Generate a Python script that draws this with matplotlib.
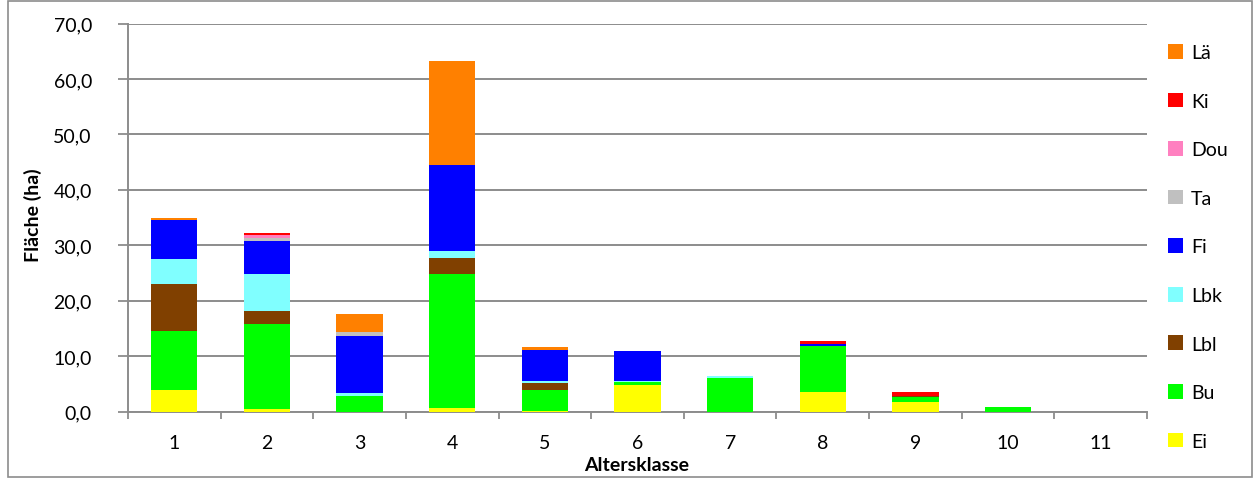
import matplotlib
matplotlib.use("Agg")
import matplotlib.pyplot as plt
import numpy as np
from matplotlib.patches import Patch, Rectangle

categories = ["1", "2", "3", "4", "5", "6", "7", "8", "9", "10", "11"]
species = ["Ei", "Bu", "Lbl", "Lbk", "Fi", "Ta", "Dou", "Ki", "Lä"]
colors = ["#FFFF00", "#00FF00", "#804000", "#80FFFF", "#0000FF",
          "#C0C0C0", "#FF80C0", "#FF0000", "#FF8000"]

Ei  = [4.0, 0.4, 0.0, 0.6, 0.1, 4.8, 0.0, 3.6, 1.8, 0.0, 0.0]
Bu  = [10.5, 15.5, 2.9, 24.3, 3.8, 0.5, 6.0, 8.2, 0.85, 0.8, 0.0]
Lbl = [8.5, 2.2, 0.0, 2.9, 1.3, 0.0, 0.0, 0.0, 0.25, 0.0, 0.0]
Lbk = [4.5, 6.7, 0.5, 1.2, 0.35, 0.2, 0.4, 0.0, 0.0, 0.0, 0.0]
Fi  = [7.0, 6.0, 10.2, 15.5, 5.6, 5.4, 0.0, 0.4, 0.0, 0.0, 0.0]
Ta  = [0.0, 0.5, 0.8, 0.0, 0.0, 0.0, 0.0, 0.0, 0.0, 0.0, 0.0]
Dou = [0.0, 0.6, 0.0, 0.0, 0.0, 0.0, 0.0, 0.0, 0.0, 0.0, 0.0]
Ki  = [0.0, 0.3, 0.0, 0.0, 0.0, 0.0, 0.0, 0.5, 0.6, 0.0, 0.0]
Lae = [0.4, 0.0, 3.3, 18.8, 0.5, 0.0, 0.0, 0.0, 0.0, 0.0, 0.0]

series = [Ei, Bu, Lbl, Lbk, Fi, Ta, Dou, Ki, Lae]
legend_labels = ["Ei", "Bu", "Lbl", "Lbk", "Fi", "Ta", "Dou", "Ki", "Lä"]

plt.rcParams['font.family'] = ['Lato', 'DejaVu Sans']
FS = 14

fig = plt.figure(figsize=(12.58, 4.81), dpi=100)
ax = fig.add_axes([128/1258, 68.3/481, (1147-128)/1258, (412.7-24.5)/481])

x = np.arange(len(categories))
bottom = np.zeros(len(categories))
for vals, col in zip(series, colors):
    v = np.array(vals)
    ax.bar(x, v, width=0.5, bottom=bottom, color=col, edgecolor='none', zorder=3)
    bottom += v

ax.set_xlim(-0.5, len(categories) - 0.5)
ax.set_ylim(0, 70)
ax.set_yticks(np.arange(0, 71, 10))
ax.set_yticklabels([f"{v:.1f}".replace('.', ',') for v in np.arange(0, 71, 10)], fontsize=FS)
ax.yaxis.grid(True, color='#8c8c8c', linewidth=1.4, zorder=0)
ax.set_axisbelow(True)

ax.set_xticks(x)
ax.set_xticklabels(categories, fontsize=FS)
ax.set_xticks(np.arange(-0.5, len(categories), 1), minor=True)
ax.tick_params(axis='x', which='major', length=0, pad=16)
ax.tick_params(axis='x', which='minor', length=5, width=1.3, color='#8c8c8c')
ax.tick_params(axis='y', length=7, width=1.3, color='#8c8c8c', pad=19)

for s in ['top', 'right']:
    ax.spines[s].set_visible(False)
for s in ['left', 'bottom']:
    ax.spines[s].set_color('#8c8c8c')
    ax.spines[s].set_linewidth(1.4)

ax.set_ylabel("Fläche (ha)", fontsize=FS, fontweight='bold')
ax.set_xlabel("Altersklasse", fontsize=FS, fontweight='bold')
ax.yaxis.set_label_coords(-86/1019, 0.5 + 3/388)
ax.xaxis.set_label_coords((637-128)/1019, -44/388.2)

handles = [Patch(facecolor=c, edgecolor='none') for c in colors][::-1]
fig.legend(handles, legend_labels[::-1], loc='upper left',
           bbox_to_anchor=(1168/1258, 1 - 45/481), frameon=False, fontsize=FS,
           handlelength=0.78, handleheight=0.78, handletextpad=0.4,
           labelspacing=1.62, borderaxespad=0, borderpad=0)

fig.patches.append(Rectangle((8/1258, 3/481), 1244/1258, 476/481, transform=fig.transFigure,
                             fill=False, edgecolor='#8c8c8c', linewidth=1.2))

fig.savefig("out.png", dpi=100)
